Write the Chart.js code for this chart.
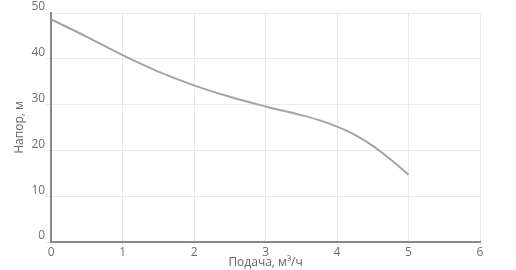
<!DOCTYPE html>
<html>
<head>
<meta charset="utf-8">
<script src="https://cdn.jsdelivr.net/npm/chart.js@4"></script>
<style>
  html, body { margin: 0; padding: 0; background: #fff; }
  #wrap { width: 516px; height: 270px; }
</style>
</head>
<body>
<div id="wrap"><canvas id="chart-napor" width="516" height="270"></canvas></div>
<script>
// Напорная характеристика
const podacha = [0, 0.5, 1, 1.5, 2, 2.5, 3, 3.5, 3.75, 4, 4.25, 4.5, 4.75, 5];
const napor = [48.6, 44.8, 40.8, 37.2, 34.2, 31.7, 29.6, 27.7, 26.6, 25.2, 23.4, 21.0, 18.0, 14.7];
const xTicks = [0, 1, 2, 3, 4, 5, 6];
const yTicks = [0, 10, 20, 30, 40, 50];

const ctx = document.getElementById("chart-napor").getContext("2d");
new Chart(ctx, {
  type: "line",
  data: {
    datasets: [
      {
        data: podacha.map((x, i) => ({ x: x, y: napor[i] })),
        borderColor: "#a4a4a4",
        borderWidth: 2,
        pointRadius: 0,
        tension: 0.4,
        fill: false,
      },
    ],
  },
  options: {
    responsive: false,
    animation: false,
    layout: { padding: { top: 13, right: 36, left: 8, bottom: 0 } },
    plugins: {
      legend: { display: false },
      tooltip: { enabled: false },
    },
    scales: {
      x: {
        type: "linear",
        min: xTicks[0],
        max: xTicks[xTicks.length - 1],
        afterBuildTicks: (axis) => { axis.ticks = xTicks.map((v) => ({ value: v })); },
        afterFit: (axis) => { axis.height = 28; },
        grid: { color: "#e8eaf0", tickLength: 3 },
        border: { color: "#8a8a8a", width: 2 },
        ticks: { color: "#707070", font: { family: "Open Sans", size: 12 }, padding: 0 },
        title: { display: true, text: "Подача, м³/ч", color: "#666", font: { family: "Open Sans", size: 12 }, padding: { top: 0, bottom: 0 } },
      },
      y: {
        min: yTicks[0],
        max: yTicks[yTicks.length - 1],
        afterBuildTicks: (axis) => { axis.ticks = yTicks.map((v) => ({ value: v })); },
        grid: { color: "#e8eaf0", tickLength: 5 },
        border: { color: "#8a8a8a", width: 2 },
        ticks: { color: "#707070", font: { family: "Open Sans", size: 12 }, padding: 1, labelOffset: -6 },
        title: { display: true, text: "Напор, м", color: "#666", font: { family: "Open Sans", size: 12 } },
      },
    },
  },
});
</script>
</body>
</html>
